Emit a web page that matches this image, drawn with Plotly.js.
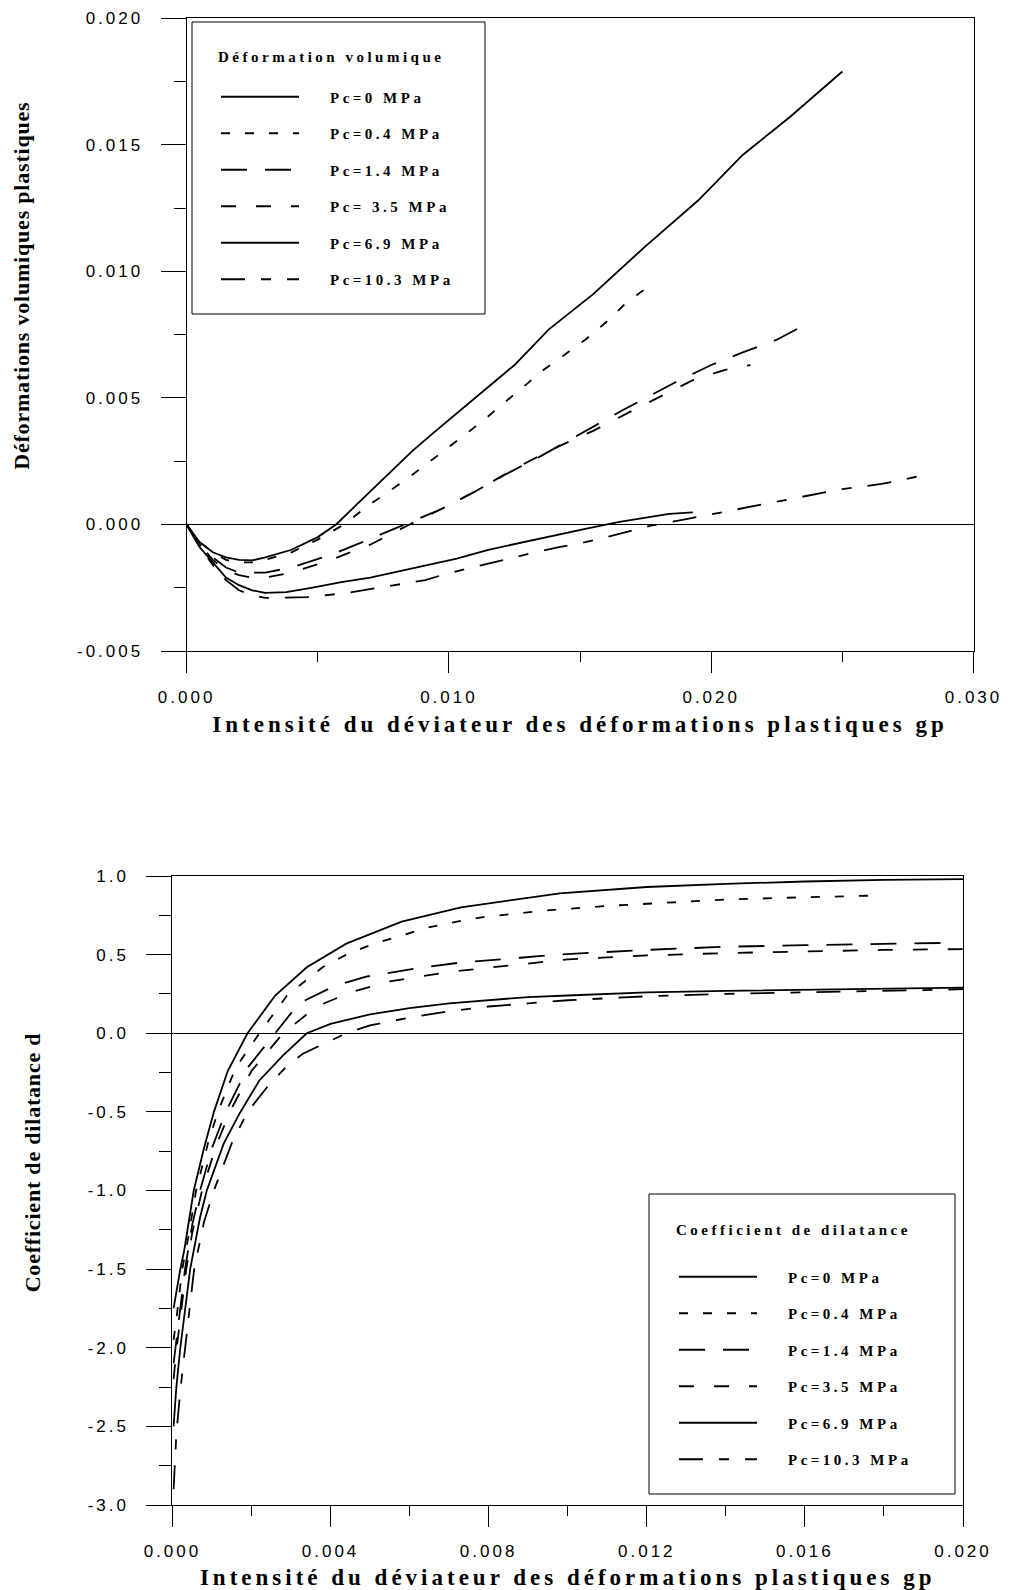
<!DOCTYPE html>
<html><head><meta charset="utf-8">
<script src="https://cdn.plot.ly/plotly-3.0.1.min.js"></script>
<style>
html,body{margin:0;padding:0;background:#fff;}
#chart{width:1011px;height:1590px;}
.xtick text,.ytick text,.x2tick text,.y2tick text{letter-spacing:3px;}
.g-xtitle text,.g-x2title text{letter-spacing:4px;}
.g-ytitle text,.g-y2title text{letter-spacing:0.8px;}
.g-ytitle{transform:translateY(-49px);}
.g-y2title{transform:translateY(-28px);}
.legendtext,.legendtitletext,.legend2text,.legend2titletext{letter-spacing:3.5px;}
.scrollbox{clip-path:none !important;}
.legendtext,.legend2text{transform:translateX(26px);}
.legendtitletext{transform:translateY(-19px);}
.legend2titletext{transform:translateY(-26px);}
</style></head><body><div id="chart"></div>
<script>
// ---------- Top chart: Déformation volumique ----------
const volLegendTitle = 'Déformation volumique';
const volNames = ['Pc=0 MPa','Pc=0.4 MPa','Pc=1.4 MPa','Pc= 3.5 MPa','Pc=6.9 MPa','Pc=10.3 MPa'];

const volX_Pc0  = [0,0.0005,0.001,0.0015,0.002,0.0025,0.003,0.004,0.005,0.0057,0.0065,0.0076,0.0086,0.0095,0.0109,0.0125,0.0138,0.0155,0.0175,0.0195,0.0212,0.023,0.025];
const volY_Pc0  = [0,-0.0007,-0.0011,-0.0013,-0.0014,-0.00142,-0.0013,-0.001,-0.0005,0,0.0008,0.0019,0.0029,0.0037,0.0049,0.0063,0.0077,0.0091,0.0110,0.0128,0.0146,0.0161,0.0179];

const volX_Pc04 = [0,0.0005,0.001,0.0015,0.002,0.0025,0.003,0.004,0.005,0.006,0.007,0.0084,0.0098,0.0113,0.0121,0.0136,0.0144,0.0152,0.016,0.0167,0.0176];
const volY_Pc04 = [0,-0.0007,-0.0011,-0.0014,-0.0015,-0.0015,-0.0014,-0.0011,-0.0006,0,0.0008,0.0018,0.0029,0.0041,0.0048,0.0061,0.0067,0.0073,0.008,0.0087,0.0094];

const volX_Pc14 = [0,0.0005,0.001,0.0015,0.002,0.0025,0.003,0.004,0.0055,0.0067,0.0081,0.0088,0.0097,0.011,0.0122,0.0135,0.0152,0.0166,0.0186,0.02,0.0212,0.0225,0.0236];
const volY_Pc14 = [0,-0.0008,-0.0013,-0.0017,-0.0019,-0.0019,-0.0019,-0.0017,-0.0012,-0.0007,-0.0001,0.0002,0.0006,0.0013,0.0020,0.0027,0.0037,0.0045,0.0056,0.0063,0.0068,0.0073,0.0079];

const volX_Pc35 = [0,0.0005,0.001,0.0015,0.002,0.0025,0.003,0.004,0.0055,0.007,0.0085,0.0095,0.011,0.0125,0.014,0.0155,0.017,0.0193,0.0205,0.0215];
const volY_Pc35 = [0,-0.0008,-0.0014,-0.0018,-0.002,-0.0021,-0.0021,-0.0019,-0.0014,-0.0008,0,0.0005,0.0013,0.0022,0.0030,0.0037,0.0045,0.0057,0.0061,0.0063];

const volX_Pc69 = [0,0.0005,0.001,0.0015,0.002,0.0025,0.003,0.0038,0.0048,0.0059,0.007,0.008,0.0092,0.0103,0.0115,0.0128,0.014,0.0152,0.0165,0.0177,0.0184,0.0193];
const volY_Pc69 = [0,-0.0009,-0.0015,-0.0021,-0.0024,-0.0026,-0.0027,-0.00267,-0.0025,-0.00228,-0.0021,-0.00188,-0.0016,-0.00135,-0.001,-0.0007,-0.00045,-0.00017,0.0001,0.00029,0.00042,0.00048];

const volX_Pc103 = [0,0.0005,0.001,0.0015,0.002,0.0025,0.003,0.0035,0.0046,0.0061,0.0075,0.0091,0.0099,0.0107,0.0114,0.0123,0.0132,0.0142,0.0152,0.016,0.0169,0.0177,0.019,0.021,0.023,0.025,0.0265,0.0279];
const volY_Pc103 = [0,-0.0009,-0.0016,-0.0022,-0.0026,-0.0028,-0.0029,-0.0029,-0.00287,-0.00271,-0.00247,-0.0022,-0.00195,-0.00175,-0.00155,-0.00135,-0.00112,-0.0009,-0.0007,-0.0005,-0.00026,-0.00005,0.0002,0.0006,0.001,0.0014,0.0016,0.0019];

const volXTickVals = [0,0.010,0.020,0.030];
const volXTickText = ['0.000','0.010','0.020','0.030'];
const volXMinorVals = [0.005,0.015,0.025];
const volYTickVals = [-0.005,0,0.005,0.010,0.015,0.020];
const volYTickText = ['-0.005','0.000','0.005','0.010','0.015','0.020'];
const volYMinorVals = [-0.0025,0.0025,0.0075,0.0125,0.0175];
const volXTitle = 'Intensité du déviateur des déformations plastiques gp';
const volYTitle = 'Déformations volumiques plastiques';

// ---------- Bottom chart: Coefficient de dilatance ----------
const dilLegendTitle = 'Coefficient de dilatance';
const dilNames = ['Pc=0 MPa','Pc=0.4 MPa','Pc=1.4 MPa','Pc=3.5 MPa','Pc=6.9 MPa','Pc=10.3 MPa'];

const dilX_Pc0  = [0.00003,0.0001,0.0002,0.0003,0.00054,0.0008,0.00105,0.0014,0.0019,0.0026,0.0034,0.0044,0.0058,0.0073,0.0098,0.012,0.014,0.016,0.018,0.020];
const dilY_Pc0  = [-1.75,-1.64,-1.5,-1.38,-1.0,-0.73,-0.5,-0.24,0,0.24,0.42,0.57,0.71,0.80,0.89,0.93,0.95,0.965,0.975,0.98];

const dilX_Pc04 = [0.00003,0.0001,0.00025,0.0004,0.0006,0.0009,0.00115,0.0016,0.0022,0.0029,0.0038,0.0044,0.0051,0.0058,0.0064,0.0072,0.0079,0.0086,0.0094,0.011,0.0125,0.014,0.016,0.0177];
const dilY_Pc04 = [-1.95,-1.82,-1.5,-1.3,-1.0,-0.7,-0.5,-0.22,0,0.24,0.42,0.50,0.57,0.62,0.67,0.71,0.74,0.76,0.78,0.81,0.83,0.85,0.865,0.875];

const dilX_Pc14 = [0.00003,0.0001,0.00032,0.0005,0.0007,0.001,0.00135,0.0019,0.0026,0.0032,0.0041,0.0049,0.0061,0.0073,0.0088,0.0097,0.012,0.014,0.016,0.018,0.0197];
const dilY_Pc14 = [-2.1,-1.95,-1.5,-1.22,-1.0,-0.73,-0.5,-0.22,0,0.19,0.30,0.36,0.41,0.45,0.48,0.50,0.53,0.55,0.56,0.57,0.575];

const dilX_Pc35 = [0.00003,0.0001,0.00035,0.0005,0.00075,0.0011,0.00145,0.002,0.0028,0.00365,0.0045,0.0055,0.007,0.0085,0.010,0.012,0.014,0.016,0.018,0.020];
const dilY_Pc35 = [-2.2,-2.02,-1.5,-1.27,-1.0,-0.72,-0.5,-0.24,0,0.17,0.26,0.33,0.39,0.43,0.47,0.495,0.51,0.52,0.53,0.535];

const dilX_Pc69 = [0.00003,0.0001,0.0002,0.00045,0.0007,0.00087,0.0013,0.0017,0.0022,0.0028,0.0034,0.004,0.005,0.006,0.007,0.008,0.009,0.010,0.012,0.014,0.016,0.018,0.020];
const dilY_Pc69 = [-2.5,-2.25,-2.0,-1.5,-1.17,-1.0,-0.70,-0.51,-0.30,-0.14,0,0.06,0.12,0.16,0.19,0.21,0.23,0.24,0.26,0.27,0.278,0.285,0.29];

const dilX_Pc103 = [0.00003,0.0001,0.0002,0.0003,0.00055,0.0008,0.00105,0.0015,0.0019,0.0025,0.0029,0.0033,0.004,0.0044,0.005,0.006,0.007,0.008,0.009,0.010,0.012,0.014,0.016,0.018,0.020];
const dilY_Pc103 = [-2.9,-2.55,-2.27,-2.05,-1.5,-1.2,-1.0,-0.70,-0.5,-0.31,-0.21,-0.13,-0.045,0,0.05,0.10,0.14,0.17,0.19,0.21,0.235,0.25,0.26,0.27,0.28];

const dilXTickVals = [0,0.004,0.008,0.012,0.016,0.020];
const dilXTickText = ['0.000','0.004','0.008','0.012','0.016','0.020'];
const dilXMinorVals = [0.002,0.006,0.010,0.014,0.018];
const dilYTickVals = [-3,-2.5,-2,-1.5,-1,-0.5,0,0.5,1];
const dilYTickText = ['-3.0','-2.5','-2.0','-1.5','-1.0','-0.5','0.0','0.5','1.0'];
const dilYMinorVals = [-2.75,-2.25,-1.75,-1.25,-0.75,-0.25,0.25,0.75];
const dilXTitle = 'Intensité du déviateur des déformations plastiques gp';
const dilYTitle = 'Coefficient de dilatance d';

// ---------- styles ----------
const dashes = ['solid','9px,15px','26px,18px','15px,20px','solid','24px,16px,10px,16px'];
const volXs = [volX_Pc0,volX_Pc04,volX_Pc14,volX_Pc35,volX_Pc69,volX_Pc103];
const volYs = [volY_Pc0,volY_Pc04,volY_Pc14,volY_Pc35,volY_Pc69,volY_Pc103];
const dilXs = [dilX_Pc0,dilX_Pc04,dilX_Pc14,dilX_Pc35,dilX_Pc69,dilX_Pc103];
const dilYs = [dilY_Pc0,dilY_Pc04,dilY_Pc14,dilY_Pc35,dilY_Pc69,dilY_Pc103];

const traces = [];
volNames.forEach((n,i)=>traces.push({
  type:'scatter', mode:'lines', x:volXs[i], y:volYs[i], name:n,
  xaxis:'x', yaxis:'y', legend:'legend', legendgroup:'v'+i,
  line:{color:'#000', width:1.8, dash:dashes[i]}
}));
dilNames.forEach((n,i)=>traces.push({
  type:'scatter', mode:'lines', x:dilXs[i], y:dilYs[i], name:n,
  xaxis:'x2', yaxis:'y2', legend:'legend2', legendgroup:'d'+i,
  line:{color:'#000', width:1.8, dash:dashes[i]}
}));

const W=1011, H=1590;
const tickFont = {family:'Liberation Sans, Arial, sans-serif', size:17, color:'#000'};
const xTitleFont = {family:'Liberation Serif, Times New Roman, serif', size:23, color:'#000', weight:'bold'};
const yTitleFont = {family:'Liberation Serif, Times New Roman, serif', size:22, color:'#000', weight:'bold'};
const legFont = {family:'Liberation Serif, Times New Roman, serif', size:15, color:'#000', weight:'bold'};

function xAx(dom, range, tv, tt, mv, anchor, title, so){
  return {domain:dom, range:range, anchor:anchor, tickmode:'array', tickvals:tv, ticktext:tt,
    ticks:'outside', ticklen:21, tickwidth:1, tickcolor:'#000',
    minor:{tickvals:mv, ticks:'outside', ticklen:10, tickwidth:1, tickcolor:'#000', showgrid:false},
    showline:true, linecolor:'#000', linewidth:1, mirror:true, zeroline:false, showgrid:false,
    tickfont:tickFont, ticklabelstandoff:10,
    title:{text:title, font:xTitleFont, standoff:so}};
}
function yAx(dom, range, tv, tt, mv, anchor, title, so){
  return {domain:dom, range:range, anchor:anchor, tickmode:'array', tickvals:tv, ticktext:tt,
    ticks:'outside', ticklen:25, tickwidth:1, tickcolor:'#000',
    minor:{tickvals:mv, ticks:'outside', ticklen:12, tickwidth:1, tickcolor:'#000', showgrid:false},
    showline:true, linecolor:'#000', linewidth:1, mirror:true,
    zeroline:true, zerolinecolor:'#000', zerolinewidth:1, showgrid:false,
    tickfont:tickFont, ticklabelstandoff:14,
    title:{text:title, font:yTitleFont, standoff:so}};
}

const layout = {
  width:W, height:H, margin:{l:0,r:0,t:0,b:0},
  paper_bgcolor:'#fff', plot_bgcolor:'#fff', showlegend:true,
  xaxis: xAx([186.6/W, 973.5/W],[0,0.030], volXTickVals, volXTickText, volXMinorVals, 'y', volXTitle, 9),
  yaxis: yAx([1-651/H, 1-18.3/H],[-0.005,0.020], volYTickVals, volYTickText, volYMinorVals, 'x', volYTitle, 41),
  xaxis2: xAx([172.4/W, 963/W],[0,0.020], dilXTickVals, dilXTickText, dilXMinorVals, 'y2', dilXTitle, 10),
  yaxis2: yAx([1-1505/H, 1-876/H],[-3,1], dilYTickVals, dilYTickText, dilYMinorVals, 'x2', dilYTitle, 41),
  legend:{x:216/W, y:1-61/H, xanchor:'left', yanchor:'top', bgcolor:'rgba(0,0,0,0)', borderwidth:0,
    font:legFont, title:{text:volLegendTitle, side:'top', font:legFont}, tracegroupgap:14, itemwidth:78},
  legend2:{x:674/W, y:1-1241/H, xanchor:'left', yanchor:'top', bgcolor:'rgba(0,0,0,0)', borderwidth:0,
    font:legFont, title:{text:dilLegendTitle, side:'top', font:legFont}, tracegroupgap:14, itemwidth:78},
  shapes:[
    {type:'rect', xref:'paper', yref:'paper', x0:192/W, x1:485/W, y0:1-314/H, y1:1-22/H, line:{color:'#000', width:1}, fillcolor:'rgba(0,0,0,0)', layer:'above'},
    {type:'rect', xref:'paper', yref:'paper', x0:649/W, x1:955/W, y0:1-1494/H, y1:1-1194/H, line:{color:'#000', width:1}, fillcolor:'rgba(0,0,0,0)', layer:'above'}
  ]
};

Plotly.newPlot('chart', traces, layout, {displayModeBar:false, staticPlot:true});
</script></body></html>
